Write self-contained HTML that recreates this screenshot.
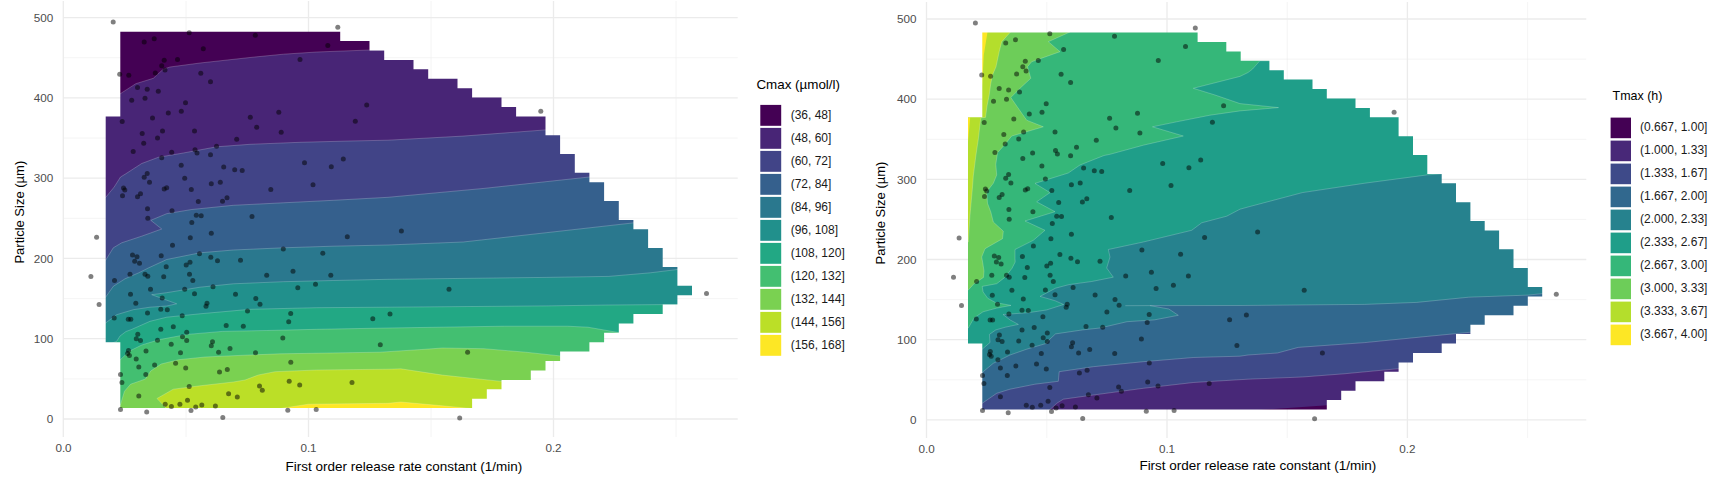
<!DOCTYPE html>
<html lang="en"><head><meta charset="utf-8"><title>Contour plots</title>
<style>html,body{margin:0;padding:0;background:#fff;}body{width:1731px;height:486px;overflow:hidden}</style></head>
<body>
<svg width="1731" height="486" viewBox="0 0 1731 486" style="display:block">
<rect width="1731" height="486" fill="#ffffff"/>
<defs><clipPath id="cl"><polygon points="120.3,31.7 340.2,31.7 340.2,41.1 369.5,41.1 369.5,50.5 384.2,50.5 384.2,59.9 413.5,59.9 413.5,69.3 428.2,69.3 428.2,78.8 457.5,78.8 457.5,88.2 472.1,88.2 472.1,97.6 501.5,97.6 501.5,107.0 516.1,107.0 516.1,116.4 545.5,116.4 545.5,135.2 560.1,135.2 560.1,154.0 574.8,154.0 574.8,172.8 589.4,172.8 589.4,182.3 604.1,182.3 604.1,201.1 618.8,201.1 618.8,219.9 633.4,219.9 633.4,229.3 648.1,229.3 648.1,248.1 662.7,248.1 662.7,266.9 677.4,266.9 677.4,285.8 692.0,285.8 692.0,295.2 677.4,295.2 677.4,304.6 662.7,304.6 662.7,314.0 633.4,314.0 633.4,323.4 618.8,323.4 618.8,332.8 604.1,332.8 604.1,342.2 589.4,342.2 589.4,351.6 560.1,351.6 560.1,361.1 545.5,361.1 545.5,370.5 530.8,370.5 530.8,379.9 501.5,379.9 501.5,389.3 486.8,389.3 486.8,398.7 472.1,398.7 472.1,408.1 120.3,408.1 120.3,342.2 105.7,342.2 105.7,116.4 120.3,116.4"/></clipPath><clipPath id="cr"><polygon points="982.3,32.5 1197.6,32.5 1197.6,41.9 1226.3,41.9 1226.3,51.4 1240.7,51.4 1240.7,60.8 1269.4,60.8 1269.4,70.2 1283.8,70.2 1283.8,79.6 1312.5,79.6 1312.5,89.1 1326.8,89.1 1326.8,98.5 1355.5,98.5 1355.5,107.9 1369.9,107.9 1369.9,117.3 1398.6,117.3 1398.6,136.2 1413.0,136.2 1413.0,155.0 1427.3,155.0 1427.3,173.9 1441.7,173.9 1441.7,183.3 1456.0,183.3 1456.0,202.2 1470.4,202.2 1470.4,221.0 1484.7,221.0 1484.7,230.4 1499.1,230.4 1499.1,249.3 1513.5,249.3 1513.5,268.1 1527.8,268.1 1527.8,287.0 1542.2,287.0 1542.2,296.4 1527.8,296.4 1527.8,305.8 1513.5,305.8 1513.5,315.2 1484.7,315.2 1484.7,324.7 1470.4,324.7 1470.4,334.1 1456.0,334.1 1456.0,343.5 1441.7,343.5 1441.7,353.0 1413.0,353.0 1413.0,362.4 1398.6,362.4 1398.6,371.8 1384.3,371.8 1384.3,381.2 1355.5,381.2 1355.5,390.7 1341.2,390.7 1341.2,400.1 1326.8,400.1 1326.8,409.5 982.3,409.5 982.3,343.5 968.0,343.5 968.0,117.3 982.3,117.3"/></clipPath></defs>
<g stroke="#ebebeb" fill="none"><path d="M186.0 1.0V437.0" stroke-width="0.55"/><path d="M431.0 1.0V437.0" stroke-width="0.55"/><path d="M676.0 1.0V437.0" stroke-width="0.55"/><path d="M63.0 378.9H737.7" stroke-width="0.55"/><path d="M63.0 298.6H737.7" stroke-width="0.55"/><path d="M63.0 218.3H737.7" stroke-width="0.55"/><path d="M63.0 138.0H737.7" stroke-width="0.55"/><path d="M63.0 57.7H737.7" stroke-width="0.55"/><path d="M63.3 1.0V437.0" stroke-width="1.3"/><path d="M308.5 1.0V437.0" stroke-width="1.3"/><path d="M553.5 1.0V437.0" stroke-width="1.3"/><path d="M63.0 419.0H737.7" stroke-width="1.3"/><path d="M63.0 338.7H737.7" stroke-width="1.3"/><path d="M63.0 258.4H737.7" stroke-width="1.3"/><path d="M63.0 178.2H737.7" stroke-width="1.3"/><path d="M63.0 97.9H737.7" stroke-width="1.3"/><path d="M63.0 17.6H737.7" stroke-width="1.3"/></g>
<g stroke="#ebebeb" fill="none"><path d="M1046.8 2.0V438.0" stroke-width="0.55"/><path d="M1287.2 2.0V438.0" stroke-width="0.55"/><path d="M1527.6 2.0V438.0" stroke-width="0.55"/><path d="M926.2 379.8H1586.3" stroke-width="0.55"/><path d="M926.2 299.6H1586.3" stroke-width="0.55"/><path d="M926.2 219.4H1586.3" stroke-width="0.55"/><path d="M926.2 139.3H1586.3" stroke-width="0.55"/><path d="M926.2 59.1H1586.3" stroke-width="0.55"/><path d="M926.5 2.0V438.0" stroke-width="1.3"/><path d="M1167.0 2.0V438.0" stroke-width="1.3"/><path d="M1407.4 2.0V438.0" stroke-width="1.3"/><path d="M926.2 419.9H1586.3" stroke-width="1.3"/><path d="M926.2 339.7H1586.3" stroke-width="1.3"/><path d="M926.2 259.5H1586.3" stroke-width="1.3"/><path d="M926.2 179.4H1586.3" stroke-width="1.3"/><path d="M926.2 99.2H1586.3" stroke-width="1.3"/><path d="M926.2 19.0H1586.3" stroke-width="1.3"/></g>
<g clip-path="url(#cl)" opacity="0.999">
<rect x="90" y="20" width="640" height="400" fill="#440154"/>
<polygon points="120.3,93.7 135.8,83.7 153.3,78.3 163.3,69.2 170.0,67.0 200.0,63.0 250.0,57.5 283.3,54.2 316.7,52.0 369.5,50.0 760.0,50.0 760.0,440.0 40.0,440.0 40.0,93.7" fill="#482576" stroke="#ffffff" stroke-opacity="0.35" stroke-width="0.6" stroke-linejoin="round"/>
<polygon points="105.6,197.5 114.2,187.0 120.5,177.0 125.0,174.3 141.7,163.5 158.3,157.3 183.3,153.0 216.7,146.8 250.0,144.3 300.0,142.3 350.0,141.0 388.0,140.2 463.0,136.1 545.5,129.9 760.0,129.9 760.0,440.0 40.0,440.0 40.0,197.5" fill="#414487" stroke="#ffffff" stroke-opacity="0.35" stroke-width="0.6" stroke-linejoin="round"/>
<polygon points="105.6,260.3 113.3,247.8 121.7,242.8 141.7,236.2 161.7,229.0 150.8,220.3 166.7,213.7 191.7,209.5 233.3,205.3 283.3,202.8 333.3,200.3 388.0,197.3 484.0,188.4 589.2,177.0 760.0,177.0 760.0,440.0 40.0,440.0 40.0,260.3" fill="#35608D" stroke="#ffffff" stroke-opacity="0.35" stroke-width="0.6" stroke-linejoin="round"/>
<polygon points="105.6,297.2 113.3,286.3 125.0,278.8 138.3,273.0 148.3,268.0 166.7,259.5 200.0,252.8 233.3,250.0 283.3,247.8 333.3,246.2 388.0,245.0 463.2,242.0 546.4,232.7 633.3,222.9 760.0,222.9 760.0,440.0 40.0,440.0 40.0,297.2" fill="#2A788E" stroke="#ffffff" stroke-opacity="0.35" stroke-width="0.6" stroke-linejoin="round"/>
<polygon points="105.6,323.0 116.7,314.7 133.3,309.7 150.0,307.2 166.7,306.0 176.7,303.8 151.7,294.7 166.7,292.7 200.0,287.2 233.3,283.8 283.3,281.7 333.3,280.5 388.0,279.3 546.4,277.4 608.8,276.4 650.4,272.8 677.2,269.5 760.0,269.5 760.0,440.0 40.0,440.0 40.0,323.0" fill="#21908C" stroke="#ffffff" stroke-opacity="0.35" stroke-width="0.6" stroke-linejoin="round"/>
<polygon points="112.0,343.0 116.6,341.4 120.0,336.0 126.0,331.5 131.5,329.5 150.0,321.3 166.7,317.2 200.0,313.8 250.0,309.3 316.7,307.7 388.0,307.2 546.4,305.9 608.8,305.0 662.6,304.6 760.0,304.6 760.0,440.0 40.0,440.0 40.0,343.0" fill="#22A884" stroke="#ffffff" stroke-opacity="0.35" stroke-width="0.6" stroke-linejoin="round"/>
<polygon points="120.3,359.7 129.7,351.0 142.0,344.9 159.5,339.6 187.5,334.4 222.4,331.4 266.7,330.5 316.7,329.3 388.0,328.0 504.8,326.2 567.2,326.2 588.0,327.2 618.8,332.6 760.0,332.6 760.0,440.0 40.0,440.0 40.0,359.7" fill="#43BF71" stroke="#ffffff" stroke-opacity="0.35" stroke-width="0.6" stroke-linejoin="round"/>
<polygon points="120.3,405.2 124.5,391.2 130.6,384.2 145.5,379.0 150.7,371.0 161.2,364.0 178.7,359.7 205.0,357.0 240.0,355.4 280.0,353.8 380.0,352.2 421.6,349.5 442.4,348.0 484.0,348.7 525.6,352.2 560.0,355.9 760.0,355.9 760.0,440.0 40.0,440.0 40.0,405.2" fill="#7AD151" stroke="#ffffff" stroke-opacity="0.35" stroke-width="0.6" stroke-linejoin="round"/>
<polygon points="157.0,398.5 173.3,389.2 200.0,385.8 233.3,382.0 245.0,380.0 258.3,375.0 275.0,371.7 316.7,370.0 388.0,369.2 400.8,368.8 442.4,375.1 501.5,381.4 720.0,381.4 720.0,430.0 166.0,430.0 166.0,408.0" fill="#BBDF27" stroke="#ffffff" stroke-opacity="0.35" stroke-width="0.6" stroke-linejoin="round"/>
<polygon points="280.0,408.6 308.3,404.2 388.0,403.3 400.8,402.0 442.4,405.8 472.0,408.6" fill="#FDE725" stroke="#ffffff" stroke-opacity="0.35" stroke-width="0.6" stroke-linejoin="round"/>
</g>
<g clip-path="url(#cr)" opacity="0.999">
<rect x="950" y="20" width="640" height="400" fill="#B4DE2C"/>
<polygon points="1010.5,20.0 1010.5,32.0 1001.7,41.7 999.2,51.7 996.0,66.7 992.5,75.0 990.8,83.3 989.2,95.0 987.0,106.0 985.5,117.4 980.8,117.8 978.3,139.3 975.8,156.0 973.3,176.0 972.5,187.0 970.0,215.0 968.3,242.0 950.0,242.0 950.0,440.0 1620.0,440.0 1620.0,20.0" fill="#6DCD59" stroke="#ffffff" stroke-opacity="0.35" stroke-width="0.6" stroke-linejoin="round"/>
<polygon points="1070.0,20.0 1070.0,32.0 1048.3,41.7 1060.0,51.7 1031.7,61.7 1027.5,66.7 1030.8,78.3 1021.7,86.7 1010.8,97.5 1016.7,106.0 1022.5,114.3 1026.7,120.2 1043.3,126.8 1023.3,132.7 1011.7,136.0 1005.0,144.3 997.5,152.7 995.8,164.3 996.7,175.0 993.3,183.3 986.7,191.7 987.5,203.3 990.8,212.0 993.3,222.0 1003.3,231.2 1002.5,238.7 985.0,248.7 981.7,257.0 982.6,262.0 984.0,271.0 983.5,277.4 974.0,283.7 968.3,290.0 950.0,290.0 950.0,440.0 1620.0,440.0 1620.0,20.0" fill="#35B779" stroke="#ffffff" stroke-opacity="0.35" stroke-width="0.6" stroke-linejoin="round"/>
<polygon points="1620.0,60.8 1259.8,60.8 1252.5,69.1 1248.0,72.5 1240.0,76.4 1193.3,88.3 1215.0,95.0 1240.0,103.6 1278.5,107.6 1240.0,110.9 1210.0,115.2 1176.7,121.8 1152.5,126.8 1183.3,136.0 1143.3,145.2 1110.0,154.3 1104.0,155.5 1080.0,165.0 1068.3,173.0 1035.0,183.4 1050.0,192.6 1036.7,201.8 1055.0,211.7 1025.0,221.0 1045.0,230.3 1033.3,240.3 1015.0,249.5 1015.0,258.7 1015.2,262.0 1012.0,268.3 1004.8,277.4 996.7,283.7 982.2,286.4 983.1,291.9 987.6,298.2 995.8,302.7 1001.2,303.6 1011.0,305.4 996.7,308.1 983.0,311.8 974.0,318.0 968.3,328.0 950.0,328.0 950.0,440.0 1620.0,440.0 1620.0,60.8" fill="#1F9E89" stroke="#ffffff" stroke-opacity="0.35" stroke-width="0.6" stroke-linejoin="round"/>
<polygon points="1620.0,173.9 1441.7,173.9 1427.2,174.9 1364.8,183.2 1302.4,192.6 1248.0,207.0 1240.0,209.2 1226.7,216.2 1201.7,222.8 1191.7,230.3 1143.3,242.0 1108.3,249.5 1110.0,257.0 1106.7,268.0 1113.3,277.2 1091.7,281.5 1069.0,284.6 1055.5,288.2 1040.1,296.4 1046.4,298.2 1055.5,300.9 1063.6,304.5 1046.4,310.0 1028.3,312.7 1003.0,314.5 1010.2,320.0 1018.4,324.4 1005.7,327.1 995.8,329.9 989.4,334.4 990.0,342.5 982.2,349.2 950.0,349.2 950.0,440.0 1620.0,440.0 1620.0,173.9" fill="#26828E" stroke="#ffffff" stroke-opacity="0.35" stroke-width="0.6" stroke-linejoin="round"/>
<polygon points="1620.0,293.6 1542.6,293.6 1528.0,295.1 1468.8,297.2 1416.8,302.4 1364.8,304.4 1240.0,305.5 1150.0,305.6 1168.8,309.0 1178.3,315.3 1154.3,319.9 1127.0,321.7 1100.0,328.0 1082.6,329.9 1055.5,333.9 1049.2,339.8 1046.7,343.3 1026.7,349.2 1010.0,355.0 993.3,363.3 982.2,372.5 950.0,372.5 950.0,440.0 1620.0,440.0 1620.0,293.6" fill="#31688E" stroke="#ffffff" stroke-opacity="0.35" stroke-width="0.6" stroke-linejoin="round"/>
<polygon points="1620.0,332.2 1470.9,332.2 1427.2,336.4 1364.8,342.6 1298.2,347.4 1277.4,353.0 1248.0,355.0 1240.0,356.2 1193.3,357.5 1143.3,361.7 1093.3,366.7 1059.2,371.7 1058.3,381.3 1035.0,384.2 1010.0,389.2 996.7,393.3 982.2,403.3 950.0,403.3 950.0,440.0 1620.0,440.0 1620.0,332.2" fill="#3E4A89" stroke="#ffffff" stroke-opacity="0.35" stroke-width="0.6" stroke-linejoin="round"/>
<polygon points="1620.0,368.6 1399.1,368.6 1344.0,373.8 1302.4,377.0 1248.0,379.2 1193.3,382.5 1143.3,388.3 1093.3,395.0 1063.3,399.2 1056.7,403.3 1050.0,409.5 1050.0,440.0 1620.0,440.0" fill="#482878" stroke="#ffffff" stroke-opacity="0.35" stroke-width="0.6" stroke-linejoin="round"/>
<path d="M1125.3 305.7L1150 305.6" fill="none" stroke="#ffffff" stroke-opacity="0.35" stroke-width="0.6" stroke-linejoin="round"/>
<polygon points="1258.0,410.0 1327.5,405.2 1327.5,410.0" fill="#440154"/>
<polygon points="982.0,32.0 987.5,32.0 983.8,55.0 982.0,87.0" fill="#FDE725"/>
<polygon points="968.0,117.4 970.2,117.4 968.0,142.0" fill="#FDE725"/>
</g>
<g fill="#000000" fill-opacity="0.5">
<circle cx="113.2" cy="22.1" r="2.5"/>
<circle cx="337.8" cy="27.2" r="2.5"/>
<circle cx="189.2" cy="32.8" r="2.5"/>
<circle cx="255.3" cy="35.3" r="2.5"/>
<circle cx="154.2" cy="38.8" r="2.5"/>
<circle cx="144.2" cy="42.0" r="2.5"/>
<circle cx="327.8" cy="45.5" r="2.5"/>
<circle cx="203.3" cy="48.7" r="2.5"/>
<circle cx="177.5" cy="59.5" r="2.5"/>
<circle cx="164.2" cy="60.3" r="2.5"/>
<circle cx="161.7" cy="65.8" r="2.5"/>
<circle cx="165.0" cy="70.0" r="2.5"/>
<circle cx="155.3" cy="73.0" r="2.5"/>
<circle cx="300.0" cy="59.5" r="2.5"/>
<circle cx="200.8" cy="73.3" r="2.5"/>
<circle cx="119.7" cy="74.2" r="2.5"/>
<circle cx="128.8" cy="75.3" r="2.5"/>
<circle cx="210.5" cy="81.7" r="2.5"/>
<circle cx="137.5" cy="87.5" r="2.5"/>
<circle cx="147.2" cy="89.2" r="2.5"/>
<circle cx="158.3" cy="91.2" r="2.5"/>
<circle cx="131.7" cy="100.3" r="2.5"/>
<circle cx="145.0" cy="98.3" r="2.5"/>
<circle cx="185.5" cy="102.8" r="2.5"/>
<circle cx="366.7" cy="104.9" r="2.5"/>
<circle cx="181.3" cy="111.3" r="2.5"/>
<circle cx="168.3" cy="113.0" r="2.5"/>
<circle cx="278.8" cy="112.3" r="2.5"/>
<circle cx="152.5" cy="118.0" r="2.5"/>
<circle cx="250.3" cy="117.3" r="2.5"/>
<circle cx="122.2" cy="121.5" r="2.5"/>
<circle cx="355.3" cy="121.3" r="2.5"/>
<circle cx="256.7" cy="127.2" r="2.5"/>
<circle cx="162.5" cy="131.0" r="2.5"/>
<circle cx="194.5" cy="131.0" r="2.5"/>
<circle cx="142.2" cy="133.5" r="2.5"/>
<circle cx="281.2" cy="132.2" r="2.5"/>
<circle cx="157.5" cy="138.0" r="2.5"/>
<circle cx="236.7" cy="139.3" r="2.5"/>
<circle cx="143.7" cy="143.2" r="2.5"/>
<circle cx="216.5" cy="146.3" r="2.5"/>
<circle cx="133.2" cy="151.5" r="2.5"/>
<circle cx="171.7" cy="152.2" r="2.5"/>
<circle cx="195.0" cy="149.7" r="2.5"/>
<circle cx="197.0" cy="153.0" r="2.5"/>
<circle cx="210.5" cy="154.8" r="2.5"/>
<circle cx="161.7" cy="157.7" r="2.5"/>
<circle cx="343.3" cy="159.0" r="2.5"/>
<circle cx="304.5" cy="162.7" r="2.5"/>
<circle cx="181.2" cy="165.2" r="2.5"/>
<circle cx="223.7" cy="167.0" r="2.5"/>
<circle cx="331.3" cy="166.8" r="2.5"/>
<circle cx="234.7" cy="169.8" r="2.5"/>
<circle cx="242.2" cy="170.5" r="2.5"/>
<circle cx="147.2" cy="173.5" r="2.5"/>
<circle cx="144.2" cy="177.3" r="2.5"/>
<circle cx="184.7" cy="178.2" r="2.5"/>
<circle cx="149.5" cy="182.2" r="2.5"/>
<circle cx="220.3" cy="182.2" r="2.5"/>
<circle cx="211.3" cy="183.8" r="2.5"/>
<circle cx="313.0" cy="184.7" r="2.5"/>
<circle cx="123.5" cy="188.0" r="2.5"/>
<circle cx="124.8" cy="190.0" r="2.5"/>
<circle cx="166.7" cy="187.8" r="2.5"/>
<circle cx="164.2" cy="189.0" r="2.5"/>
<circle cx="191.3" cy="189.5" r="2.5"/>
<circle cx="270.8" cy="189.5" r="2.5"/>
<circle cx="140.5" cy="193.7" r="2.5"/>
<circle cx="137.5" cy="196.7" r="2.5"/>
<circle cx="122.5" cy="195.7" r="2.5"/>
<circle cx="227.0" cy="197.8" r="2.5"/>
<circle cx="222.5" cy="201.2" r="2.5"/>
<circle cx="198.3" cy="201.5" r="2.5"/>
<circle cx="147.5" cy="208.7" r="2.5"/>
<circle cx="172.0" cy="210.8" r="2.5"/>
<circle cx="196.3" cy="215.3" r="2.5"/>
<circle cx="201.2" cy="215.7" r="2.5"/>
<circle cx="252.0" cy="216.5" r="2.5"/>
<circle cx="147.8" cy="218.3" r="2.5"/>
<circle cx="191.8" cy="222.5" r="2.5"/>
<circle cx="211.3" cy="233.3" r="2.5"/>
<circle cx="347.3" cy="236.7" r="2.5"/>
<circle cx="190.3" cy="237.8" r="2.5"/>
<circle cx="172.5" cy="245.2" r="2.5"/>
<circle cx="283.3" cy="249.0" r="2.5"/>
<circle cx="322.8" cy="253.3" r="2.5"/>
<circle cx="199.5" cy="253.7" r="2.5"/>
<circle cx="132.5" cy="255.0" r="2.5"/>
<circle cx="137.0" cy="256.7" r="2.5"/>
<circle cx="161.2" cy="255.7" r="2.5"/>
<circle cx="210.8" cy="257.3" r="2.5"/>
<circle cx="217.5" cy="260.8" r="2.5"/>
<circle cx="240.5" cy="260.3" r="2.5"/>
<circle cx="134.7" cy="261.2" r="2.5"/>
<circle cx="139.5" cy="263.2" r="2.5"/>
<circle cx="190.0" cy="262.3" r="2.5"/>
<circle cx="186.2" cy="265.0" r="2.5"/>
<circle cx="166.2" cy="266.7" r="2.5"/>
<circle cx="293.0" cy="271.3" r="2.5"/>
<circle cx="189.5" cy="274.3" r="2.5"/>
<circle cx="130.0" cy="274.3" r="2.5"/>
<circle cx="145.0" cy="274.3" r="2.5"/>
<circle cx="147.8" cy="276.3" r="2.5"/>
<circle cx="163.7" cy="276.7" r="2.5"/>
<circle cx="266.7" cy="275.2" r="2.5"/>
<circle cx="330.8" cy="275.2" r="2.5"/>
<circle cx="114.5" cy="280.5" r="2.5"/>
<circle cx="192.8" cy="280.5" r="2.5"/>
<circle cx="315.5" cy="284.3" r="2.5"/>
<circle cx="213.0" cy="286.7" r="2.5"/>
<circle cx="297.8" cy="287.7" r="2.5"/>
<circle cx="150.5" cy="289.3" r="2.5"/>
<circle cx="184.7" cy="289.2" r="2.5"/>
<circle cx="194.5" cy="293.8" r="2.5"/>
<circle cx="130.5" cy="294.3" r="2.5"/>
<circle cx="235.5" cy="294.2" r="2.5"/>
<circle cx="162.2" cy="298.0" r="2.5"/>
<circle cx="255.8" cy="298.5" r="2.5"/>
<circle cx="135.8" cy="303.3" r="2.5"/>
<circle cx="207.0" cy="303.3" r="2.5"/>
<circle cx="206.0" cy="306.3" r="2.5"/>
<circle cx="260.0" cy="304.3" r="2.5"/>
<circle cx="99.1" cy="304.5" r="2.5"/>
<circle cx="160.8" cy="309.3" r="2.5"/>
<circle cx="167.3" cy="309.7" r="2.5"/>
<circle cx="247.5" cy="311.0" r="2.5"/>
<circle cx="147.5" cy="313.0" r="2.5"/>
<circle cx="290.7" cy="313.5" r="2.5"/>
<circle cx="182.2" cy="315.8" r="2.5"/>
<circle cx="114.2" cy="318.0" r="2.5"/>
<circle cx="128.3" cy="319.2" r="2.5"/>
<circle cx="130.8" cy="319.2" r="2.5"/>
<circle cx="372.8" cy="318.8" r="2.5"/>
<circle cx="288.7" cy="321.7" r="2.5"/>
<circle cx="226.2" cy="325.5" r="2.5"/>
<circle cx="243.3" cy="326.3" r="2.5"/>
<circle cx="173.3" cy="326.7" r="2.5"/>
<circle cx="160.8" cy="329.2" r="2.5"/>
<circle cx="186.7" cy="332.2" r="2.5"/>
<circle cx="137.8" cy="334.2" r="2.5"/>
<circle cx="182.5" cy="336.8" r="2.5"/>
<circle cx="282.8" cy="338.0" r="2.5"/>
<circle cx="136.3" cy="338.8" r="2.5"/>
<circle cx="140.5" cy="340.5" r="2.5"/>
<circle cx="157.5" cy="340.2" r="2.5"/>
<circle cx="186.7" cy="340.5" r="2.5"/>
<circle cx="212.5" cy="341.8" r="2.5"/>
<circle cx="171.2" cy="344.3" r="2.5"/>
<circle cx="211.3" cy="345.8" r="2.5"/>
<circle cx="380.3" cy="344.7" r="2.5"/>
<circle cx="230.0" cy="348.5" r="2.5"/>
<circle cx="146.0" cy="351.0" r="2.5"/>
<circle cx="128.5" cy="350.6" r="2.5"/>
<circle cx="127.6" cy="353.6" r="2.5"/>
<circle cx="129.4" cy="355.4" r="2.5"/>
<circle cx="180.5" cy="352.7" r="2.5"/>
<circle cx="218.6" cy="352.2" r="2.5"/>
<circle cx="255.5" cy="352.7" r="2.5"/>
<circle cx="136.2" cy="358.9" r="2.5"/>
<circle cx="175.6" cy="363.2" r="2.5"/>
<circle cx="154.6" cy="365.0" r="2.5"/>
<circle cx="138.8" cy="367.1" r="2.5"/>
<circle cx="185.7" cy="368.1" r="2.5"/>
<circle cx="227.3" cy="369.4" r="2.5"/>
<circle cx="219.5" cy="372.0" r="2.5"/>
<circle cx="120.5" cy="374.6" r="2.5"/>
<circle cx="145.8" cy="374.6" r="2.5"/>
<circle cx="121.9" cy="382.5" r="2.5"/>
<circle cx="189.2" cy="386.5" r="2.5"/>
<circle cx="259.5" cy="386.0" r="2.5"/>
<circle cx="262.3" cy="390.3" r="2.5"/>
<circle cx="228.6" cy="393.8" r="2.5"/>
<circle cx="138.8" cy="395.9" r="2.5"/>
<circle cx="237.3" cy="397.0" r="2.5"/>
<circle cx="187.5" cy="400.3" r="2.5"/>
<circle cx="165.2" cy="404.3" r="2.5"/>
<circle cx="179.9" cy="404.3" r="2.5"/>
<circle cx="171.4" cy="406.4" r="2.5"/>
<circle cx="201.8" cy="404.9" r="2.5"/>
<circle cx="195.7" cy="407.0" r="2.5"/>
<circle cx="215.4" cy="406.1" r="2.5"/>
<circle cx="120.5" cy="409.6" r="2.5"/>
<circle cx="146.7" cy="411.9" r="2.5"/>
<circle cx="191.0" cy="410.5" r="2.5"/>
<circle cx="290.8" cy="362.2" r="2.5"/>
<circle cx="289.2" cy="381.2" r="2.5"/>
<circle cx="299.7" cy="385.0" r="2.5"/>
<circle cx="352.0" cy="382.5" r="2.5"/>
<circle cx="287.8" cy="410.3" r="2.5"/>
<circle cx="316.2" cy="409.5" r="2.5"/>
<circle cx="222.8" cy="417.5" r="2.5"/>
<circle cx="540.8" cy="111.3" r="2.5"/>
<circle cx="401.4" cy="231.0" r="2.5"/>
<circle cx="449.0" cy="289.3" r="2.5"/>
<circle cx="706.5" cy="293.4" r="2.5"/>
<circle cx="390.0" cy="314.0" r="2.5"/>
<circle cx="467.6" cy="352.2" r="2.5"/>
<circle cx="459.7" cy="417.9" r="2.5"/>
<circle cx="96.6" cy="237.2" r="2.5"/>
<circle cx="90.9" cy="276.4" r="2.5"/>
<circle cx="975.4" cy="23.0" r="2.5"/>
<circle cx="1195.3" cy="28.1" r="2.5"/>
<circle cx="1049.8" cy="33.7" r="2.5"/>
<circle cx="1114.5" cy="36.2" r="2.5"/>
<circle cx="1015.5" cy="39.7" r="2.5"/>
<circle cx="1005.7" cy="42.9" r="2.5"/>
<circle cx="1185.5" cy="46.4" r="2.5"/>
<circle cx="1063.6" cy="49.6" r="2.5"/>
<circle cx="1038.3" cy="60.4" r="2.5"/>
<circle cx="1025.3" cy="61.2" r="2.5"/>
<circle cx="1022.8" cy="66.7" r="2.5"/>
<circle cx="1026.1" cy="70.9" r="2.5"/>
<circle cx="1016.6" cy="73.9" r="2.5"/>
<circle cx="1158.3" cy="60.4" r="2.5"/>
<circle cx="1061.1" cy="74.2" r="2.5"/>
<circle cx="981.7" cy="75.1" r="2.5"/>
<circle cx="990.6" cy="76.2" r="2.5"/>
<circle cx="1070.6" cy="82.6" r="2.5"/>
<circle cx="999.2" cy="88.4" r="2.5"/>
<circle cx="1008.6" cy="90.1" r="2.5"/>
<circle cx="1019.5" cy="92.1" r="2.5"/>
<circle cx="993.5" cy="101.2" r="2.5"/>
<circle cx="1006.5" cy="99.2" r="2.5"/>
<circle cx="1046.2" cy="103.7" r="2.5"/>
<circle cx="1223.6" cy="105.8" r="2.5"/>
<circle cx="1042.0" cy="112.2" r="2.5"/>
<circle cx="1029.3" cy="113.9" r="2.5"/>
<circle cx="1137.5" cy="113.2" r="2.5"/>
<circle cx="1013.8" cy="118.9" r="2.5"/>
<circle cx="1109.6" cy="118.2" r="2.5"/>
<circle cx="984.2" cy="122.4" r="2.5"/>
<circle cx="1212.4" cy="122.2" r="2.5"/>
<circle cx="1115.9" cy="128.1" r="2.5"/>
<circle cx="1023.6" cy="131.9" r="2.5"/>
<circle cx="1055.0" cy="131.9" r="2.5"/>
<circle cx="1003.8" cy="134.4" r="2.5"/>
<circle cx="1139.9" cy="133.1" r="2.5"/>
<circle cx="1018.7" cy="138.9" r="2.5"/>
<circle cx="1096.3" cy="140.2" r="2.5"/>
<circle cx="1005.2" cy="144.1" r="2.5"/>
<circle cx="1076.5" cy="147.2" r="2.5"/>
<circle cx="994.9" cy="152.4" r="2.5"/>
<circle cx="1032.6" cy="153.1" r="2.5"/>
<circle cx="1055.5" cy="150.6" r="2.5"/>
<circle cx="1057.4" cy="153.9" r="2.5"/>
<circle cx="1070.6" cy="155.7" r="2.5"/>
<circle cx="1022.8" cy="158.6" r="2.5"/>
<circle cx="1200.7" cy="159.9" r="2.5"/>
<circle cx="1162.7" cy="163.6" r="2.5"/>
<circle cx="1041.9" cy="166.1" r="2.5"/>
<circle cx="1083.6" cy="167.9" r="2.5"/>
<circle cx="1188.9" cy="167.7" r="2.5"/>
<circle cx="1094.3" cy="170.7" r="2.5"/>
<circle cx="1101.7" cy="171.4" r="2.5"/>
<circle cx="1008.6" cy="174.4" r="2.5"/>
<circle cx="1005.7" cy="178.2" r="2.5"/>
<circle cx="1045.4" cy="179.1" r="2.5"/>
<circle cx="1010.9" cy="183.1" r="2.5"/>
<circle cx="1080.2" cy="183.1" r="2.5"/>
<circle cx="1071.4" cy="184.7" r="2.5"/>
<circle cx="1171.0" cy="185.6" r="2.5"/>
<circle cx="985.4" cy="188.9" r="2.5"/>
<circle cx="986.7" cy="190.9" r="2.5"/>
<circle cx="1027.7" cy="188.7" r="2.5"/>
<circle cx="1025.3" cy="189.9" r="2.5"/>
<circle cx="1051.8" cy="190.4" r="2.5"/>
<circle cx="1129.7" cy="190.4" r="2.5"/>
<circle cx="1002.1" cy="194.6" r="2.5"/>
<circle cx="999.2" cy="197.6" r="2.5"/>
<circle cx="984.5" cy="196.6" r="2.5"/>
<circle cx="1086.8" cy="198.7" r="2.5"/>
<circle cx="1082.4" cy="202.1" r="2.5"/>
<circle cx="1058.7" cy="202.4" r="2.5"/>
<circle cx="1008.9" cy="209.6" r="2.5"/>
<circle cx="1032.9" cy="211.7" r="2.5"/>
<circle cx="1056.7" cy="216.2" r="2.5"/>
<circle cx="1061.5" cy="216.6" r="2.5"/>
<circle cx="1111.3" cy="217.4" r="2.5"/>
<circle cx="1009.2" cy="219.2" r="2.5"/>
<circle cx="1052.3" cy="223.4" r="2.5"/>
<circle cx="1071.4" cy="234.2" r="2.5"/>
<circle cx="1204.6" cy="237.6" r="2.5"/>
<circle cx="1050.9" cy="238.7" r="2.5"/>
<circle cx="1033.4" cy="246.1" r="2.5"/>
<circle cx="1141.9" cy="249.9" r="2.5"/>
<circle cx="1180.6" cy="254.2" r="2.5"/>
<circle cx="1059.9" cy="254.6" r="2.5"/>
<circle cx="994.3" cy="255.9" r="2.5"/>
<circle cx="998.7" cy="257.6" r="2.5"/>
<circle cx="1022.4" cy="256.6" r="2.5"/>
<circle cx="1070.9" cy="258.2" r="2.5"/>
<circle cx="1077.5" cy="261.7" r="2.5"/>
<circle cx="1100.0" cy="261.2" r="2.5"/>
<circle cx="996.4" cy="262.1" r="2.5"/>
<circle cx="1001.1" cy="264.1" r="2.5"/>
<circle cx="1050.6" cy="263.2" r="2.5"/>
<circle cx="1046.8" cy="265.9" r="2.5"/>
<circle cx="1027.3" cy="267.6" r="2.5"/>
<circle cx="1151.4" cy="272.2" r="2.5"/>
<circle cx="1050.1" cy="275.2" r="2.5"/>
<circle cx="991.8" cy="275.2" r="2.5"/>
<circle cx="1006.5" cy="275.2" r="2.5"/>
<circle cx="1009.2" cy="277.2" r="2.5"/>
<circle cx="1024.8" cy="277.6" r="2.5"/>
<circle cx="1125.7" cy="276.1" r="2.5"/>
<circle cx="1188.4" cy="276.1" r="2.5"/>
<circle cx="976.6" cy="281.4" r="2.5"/>
<circle cx="1053.3" cy="281.4" r="2.5"/>
<circle cx="1173.4" cy="285.2" r="2.5"/>
<circle cx="1073.1" cy="287.6" r="2.5"/>
<circle cx="1156.1" cy="288.6" r="2.5"/>
<circle cx="1011.9" cy="290.2" r="2.5"/>
<circle cx="1045.4" cy="290.1" r="2.5"/>
<circle cx="1055.0" cy="294.7" r="2.5"/>
<circle cx="992.3" cy="295.2" r="2.5"/>
<circle cx="1095.1" cy="295.1" r="2.5"/>
<circle cx="1023.3" cy="298.9" r="2.5"/>
<circle cx="1115.0" cy="299.4" r="2.5"/>
<circle cx="997.5" cy="304.2" r="2.5"/>
<circle cx="1067.2" cy="304.2" r="2.5"/>
<circle cx="1066.2" cy="307.2" r="2.5"/>
<circle cx="1119.1" cy="305.2" r="2.5"/>
<circle cx="961.5" cy="305.4" r="2.5"/>
<circle cx="1022.0" cy="310.2" r="2.5"/>
<circle cx="1028.3" cy="310.6" r="2.5"/>
<circle cx="1106.9" cy="311.9" r="2.5"/>
<circle cx="1008.9" cy="313.9" r="2.5"/>
<circle cx="1149.2" cy="314.4" r="2.5"/>
<circle cx="1042.9" cy="316.7" r="2.5"/>
<circle cx="976.3" cy="318.9" r="2.5"/>
<circle cx="990.1" cy="320.1" r="2.5"/>
<circle cx="992.6" cy="320.1" r="2.5"/>
<circle cx="1229.6" cy="319.7" r="2.5"/>
<circle cx="1147.2" cy="322.6" r="2.5"/>
<circle cx="1086.0" cy="326.4" r="2.5"/>
<circle cx="1102.7" cy="327.2" r="2.5"/>
<circle cx="1034.2" cy="327.6" r="2.5"/>
<circle cx="1022.0" cy="330.1" r="2.5"/>
<circle cx="1047.3" cy="333.1" r="2.5"/>
<circle cx="999.4" cy="335.1" r="2.5"/>
<circle cx="1043.2" cy="337.7" r="2.5"/>
<circle cx="1141.4" cy="338.9" r="2.5"/>
<circle cx="998.0" cy="339.7" r="2.5"/>
<circle cx="1002.1" cy="341.4" r="2.5"/>
<circle cx="1018.7" cy="341.1" r="2.5"/>
<circle cx="1047.3" cy="341.4" r="2.5"/>
<circle cx="1072.6" cy="342.7" r="2.5"/>
<circle cx="1032.1" cy="345.2" r="2.5"/>
<circle cx="1071.4" cy="346.7" r="2.5"/>
<circle cx="1236.9" cy="345.6" r="2.5"/>
<circle cx="1089.7" cy="349.4" r="2.5"/>
<circle cx="1007.5" cy="351.9" r="2.5"/>
<circle cx="990.3" cy="351.5" r="2.5"/>
<circle cx="989.5" cy="354.5" r="2.5"/>
<circle cx="991.2" cy="356.3" r="2.5"/>
<circle cx="1041.3" cy="353.6" r="2.5"/>
<circle cx="1078.6" cy="353.1" r="2.5"/>
<circle cx="1114.7" cy="353.6" r="2.5"/>
<circle cx="997.9" cy="359.8" r="2.5"/>
<circle cx="1036.5" cy="364.1" r="2.5"/>
<circle cx="1015.9" cy="365.9" r="2.5"/>
<circle cx="1000.4" cy="368.0" r="2.5"/>
<circle cx="1046.3" cy="369.0" r="2.5"/>
<circle cx="1087.1" cy="370.3" r="2.5"/>
<circle cx="1079.4" cy="372.9" r="2.5"/>
<circle cx="982.5" cy="375.5" r="2.5"/>
<circle cx="1007.3" cy="375.5" r="2.5"/>
<circle cx="983.9" cy="383.4" r="2.5"/>
<circle cx="1049.8" cy="387.4" r="2.5"/>
<circle cx="1118.6" cy="386.9" r="2.5"/>
<circle cx="1121.4" cy="391.2" r="2.5"/>
<circle cx="1088.4" cy="394.7" r="2.5"/>
<circle cx="1000.4" cy="396.8" r="2.5"/>
<circle cx="1096.9" cy="397.9" r="2.5"/>
<circle cx="1048.1" cy="401.2" r="2.5"/>
<circle cx="1026.3" cy="405.2" r="2.5"/>
<circle cx="1040.7" cy="405.2" r="2.5"/>
<circle cx="1032.3" cy="407.3" r="2.5"/>
<circle cx="1062.1" cy="405.8" r="2.5"/>
<circle cx="1056.1" cy="407.9" r="2.5"/>
<circle cx="1075.4" cy="407.0" r="2.5"/>
<circle cx="982.5" cy="410.5" r="2.5"/>
<circle cx="1008.2" cy="412.8" r="2.5"/>
<circle cx="1051.5" cy="411.4" r="2.5"/>
<circle cx="1149.3" cy="363.1" r="2.5"/>
<circle cx="1147.7" cy="382.1" r="2.5"/>
<circle cx="1158.0" cy="385.9" r="2.5"/>
<circle cx="1209.2" cy="383.4" r="2.5"/>
<circle cx="1146.3" cy="411.2" r="2.5"/>
<circle cx="1174.1" cy="410.4" r="2.5"/>
<circle cx="1082.7" cy="418.4" r="2.5"/>
<circle cx="1394.1" cy="112.2" r="2.5"/>
<circle cx="1257.6" cy="231.9" r="2.5"/>
<circle cx="1304.2" cy="290.2" r="2.5"/>
<circle cx="1556.3" cy="294.3" r="2.5"/>
<circle cx="1246.4" cy="314.9" r="2.5"/>
<circle cx="1322.4" cy="353.1" r="2.5"/>
<circle cx="1314.6" cy="418.8" r="2.5"/>
<circle cx="959.1" cy="238.1" r="2.5"/>
<circle cx="953.5" cy="277.3" r="2.5"/>
</g>
<g font-family="'Liberation Sans', Arial, sans-serif" font-size="11.7" fill="#4d4d4d" text-anchor="end">
<text x="53.3" y="423.2">0</text>
<text x="916.4" y="424.1">0</text>
<text x="53.3" y="342.9">100</text>
<text x="916.4" y="343.9">100</text>
<text x="53.3" y="262.6">200</text>
<text x="916.4" y="263.7">200</text>
<text x="53.3" y="182.4">300</text>
<text x="916.4" y="183.6">300</text>
<text x="53.3" y="102.1">400</text>
<text x="916.4" y="103.4">400</text>
<text x="53.3" y="21.8">500</text>
<text x="916.4" y="23.2">500</text>
</g>
<g font-family="'Liberation Sans', Arial, sans-serif" font-size="11.7" fill="#4d4d4d" text-anchor="middle">
<text x="63.5" y="452.4">0.0</text>
<text x="926.6" y="452.9">0.0</text>
<text x="308.5" y="452.4">0.1</text>
<text x="1167.0" y="452.9">0.1</text>
<text x="553.5" y="452.4">0.2</text>
<text x="1407.4" y="452.9">0.2</text>
</g>
<g font-family="'Liberation Sans', Arial, sans-serif" font-size="13" fill="#000000" text-anchor="middle">
<text id="xtl" x="403.9" y="471" textLength="236.6" lengthAdjust="spacingAndGlyphs">First order release rate constant (1/min)</text>
<text id="xtr" x="1257.8" y="470.3" textLength="236.8" lengthAdjust="spacingAndGlyphs">First order release rate constant (1/min)</text>
<text id="ytl" transform="translate(24.2,212.2) rotate(-90)" textLength="102.8" lengthAdjust="spacingAndGlyphs">Particle Size (µm)</text>
<text id="ytr" transform="translate(885,213) rotate(-90)" textLength="102.8" lengthAdjust="spacingAndGlyphs">Particle Size (µm)</text>
</g>
<g font-family="'Liberation Sans', Arial, sans-serif" font-size="13" fill="#000000">
<text x="756.4" y="88.5" textLength="83.6" lengthAdjust="spacingAndGlyphs">Cmax (µmol/l)</text>
<text x="1612.6" y="100.4" textLength="49.8" lengthAdjust="spacingAndGlyphs">Tmax (h)</text>
</g>
<g font-family="'Liberation Sans', Arial, sans-serif" font-size="12" fill="#1a1a1a">
<rect x="760.3" y="104.9" width="20.9" height="20.9" fill="#440154"/>
<text x="790.7" y="118.7">(36, 48]</text>
<rect x="760.3" y="127.9" width="20.9" height="20.9" fill="#482576"/>
<text x="790.7" y="141.7">(48, 60]</text>
<rect x="760.3" y="150.9" width="20.9" height="20.9" fill="#414487"/>
<text x="790.7" y="164.7">(60, 72]</text>
<rect x="760.3" y="173.9" width="20.9" height="20.9" fill="#35608D"/>
<text x="790.7" y="187.7">(72, 84]</text>
<rect x="760.3" y="196.9" width="20.9" height="20.9" fill="#2A788E"/>
<text x="790.7" y="210.7">(84, 96]</text>
<rect x="760.3" y="219.9" width="20.9" height="20.9" fill="#21908C"/>
<text x="790.7" y="233.7">(96, 108]</text>
<rect x="760.3" y="242.9" width="20.9" height="20.9" fill="#22A884"/>
<text x="790.7" y="256.7">(108, 120]</text>
<rect x="760.3" y="265.9" width="20.9" height="20.9" fill="#43BF71"/>
<text x="790.7" y="279.7">(120, 132]</text>
<rect x="760.3" y="288.9" width="20.9" height="20.9" fill="#7AD151"/>
<text x="790.7" y="302.7">(132, 144]</text>
<rect x="760.3" y="311.9" width="20.9" height="20.9" fill="#BBDF27"/>
<text x="790.7" y="325.7">(144, 156]</text>
<rect x="760.3" y="334.9" width="20.9" height="20.9" fill="#FDE725"/>
<text x="790.7" y="348.7">(156, 168]</text>
<rect x="1610.6" y="117.6" width="20.4" height="20.6" fill="#440154"/>
<text x="1640" y="131.4">(0.667, 1.00]</text>
<rect x="1610.6" y="140.6" width="20.4" height="20.6" fill="#482878"/>
<text x="1640" y="154.4">(1.000, 1.33]</text>
<rect x="1610.6" y="163.6" width="20.4" height="20.6" fill="#3E4A89"/>
<text x="1640" y="177.4">(1.333, 1.67]</text>
<rect x="1610.6" y="186.6" width="20.4" height="20.6" fill="#31688E"/>
<text x="1640" y="200.4">(1.667, 2.00]</text>
<rect x="1610.6" y="209.6" width="20.4" height="20.6" fill="#26828E"/>
<text x="1640" y="223.4">(2.000, 2.33]</text>
<rect x="1610.6" y="232.6" width="20.4" height="20.6" fill="#1F9E89"/>
<text x="1640" y="246.4">(2.333, 2.67]</text>
<rect x="1610.6" y="255.6" width="20.4" height="20.6" fill="#35B779"/>
<text x="1640" y="269.4">(2.667, 3.00]</text>
<rect x="1610.6" y="278.6" width="20.4" height="20.6" fill="#6DCD59"/>
<text x="1640" y="292.4">(3.000, 3.33]</text>
<rect x="1610.6" y="301.6" width="20.4" height="20.6" fill="#B4DE2C"/>
<text x="1640" y="315.4">(3.333, 3.67]</text>
<rect x="1610.6" y="324.6" width="20.4" height="20.6" fill="#FDE725"/>
<text x="1640" y="338.4">(3.667, 4.00]</text>
</g>
</svg>
</body></html>
